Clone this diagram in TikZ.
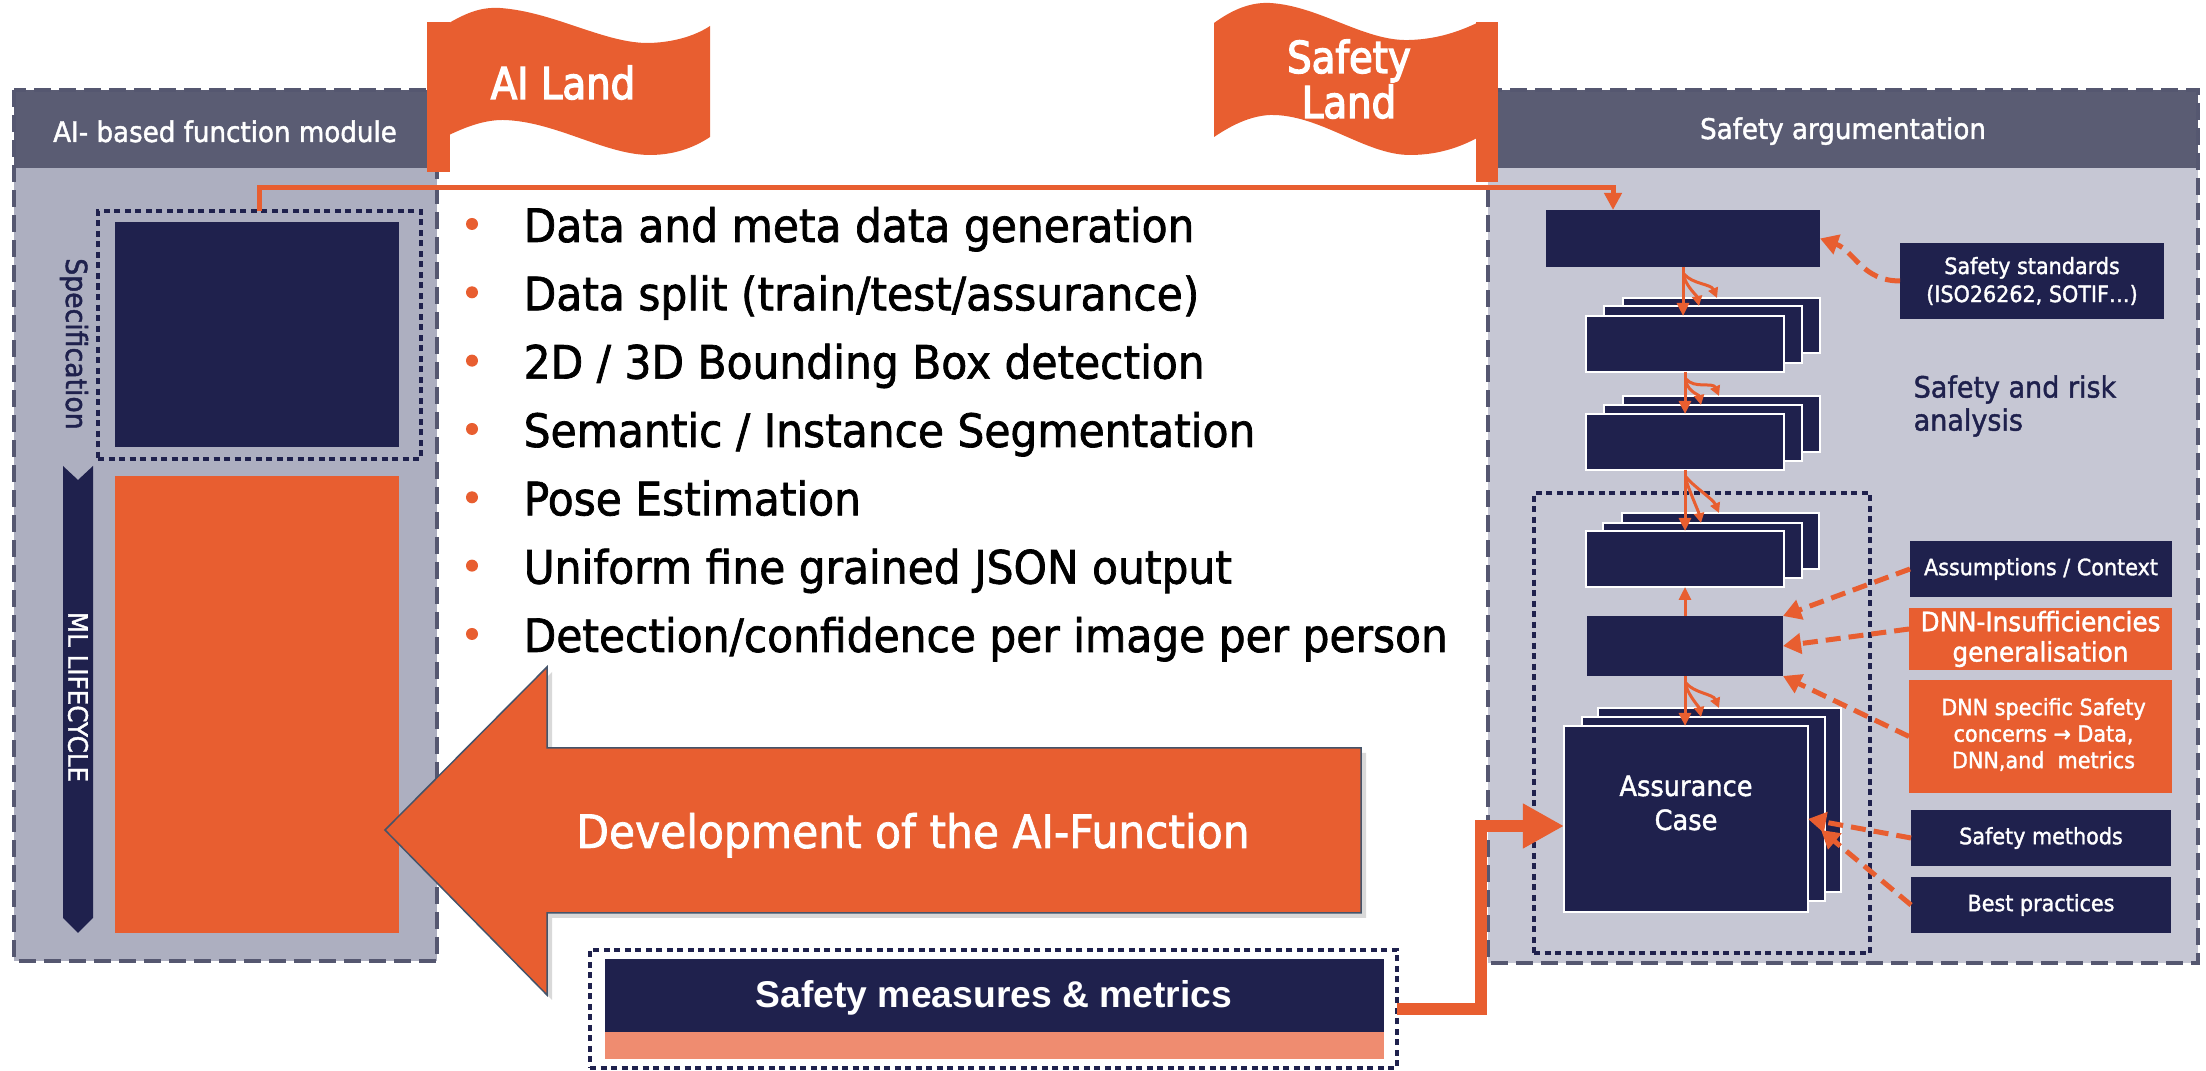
\documentclass[tikz,border=0pt]{standalone}
\usepackage{fontspec}
\setmainfont{DejaVu Sans}[FakeStretch=0.92,FakeBold=1.5]
\newfontfamily\flagf{DejaVu Sans}[FakeStretch=0.88,FakeBold=3]
\newfontfamily\arialf{Liberation Sans}
\usetikzlibrary{fit,calc,arrows.meta,shadows}
\definecolor{navy}{RGB}{31,33,77}
\definecolor{orng}{RGB}{232,94,48}
\definecolor{hdr}{RGB}{90,92,115}
\definecolor{lbody}{RGB}{173,175,192}
\definecolor{rbody}{RGB}{198,199,212}
\definecolor{bord}{RGB}{85,87,112}
\definecolor{salmon}{RGB}{239,140,112}
\definecolor{arrbord}{RGB}{68,84,106}
\newcommand\fpt[2]{\fontsize{#1}{#2}\selectfont}
\newcommand\forkto[4]{%
  \draw[stem] (#1.south) -- (#1.south |- #2.north);
  \path (#1.south) ++(1,7) coordinate (fkA) ++(0,3) coordinate (fkB);
  \path (#1.south) ++(34,0) coordinate (fkC) ++(-18,0) coordinate (fkD);
  \draw[branch] (fkA) .. controls +(8,10) and +(-6,-14) .. (fkC |- #4.north);
  \draw[branch] (fkB) .. controls +(3,10) and +(-2,-10) .. (fkD |- #3.north);
}
\begin{document}
\begin{tikzpicture}[x=0.01cm,y=-0.01cm,
  bx/.style={inner sep=0pt,outer sep=0pt},
  stackbox/.style={bx,fill=navy,draw=white,line width=0.025cm},
  dotbox/.style={bx,draw=navy,line width=0.045cm,dash pattern=on 0.06cm off 0.045cm},
  outerdash/.style={draw=bord,line width=0.04cm,dash pattern=on 0.17cm off 0.08cm},
  hdrtxt/.style={inner sep=0pt,text=white,font=\fpt{8.08pt}{9.7pt}},
  bul/.style={inner sep=0pt,anchor=base west,font=\fpt{13.1pt}{15pt}},
  flagtxt/.style={inner sep=0pt,anchor=base,text=white,font=\flagf\fpt{12.5pt}{14pt}},
  boxtxt/.style={inner sep=0pt,text=white,align=center,font=\fpt{6.4pt}{7.97pt}},
  conn/.style={draw=orng,line width=0.05cm,-{Triangle[length=0.17cm,width=0.17cm]}},
  stem/.style={draw=orng,line width=0.03cm,-{Triangle[length=0.13cm,width=0.12cm]}},
  branch/.style={draw=orng,line width=0.03cm,-{Triangle[length=0.1cm,width=0.1cm]}},
  dasharr/.style={draw=orng,line width=0.05cm,dash pattern=on 0.15cm off 0.08cm,-{Triangle[length=0.18cm,width=0.2cm]}},
  thickconn/.style={draw=orng,line width=0.12cm,-{Triangle[length=0.41cm,width=0.42cm]}}
]
\useasboundingbox (0,0) rectangle (2206,1071);

% ---------- left module ----------
\node[bx,fit={(14,90)(437,961)},fill=lbody] (lmod) {};
\node[bx,fit={(14,90)(437,168)},fill=hdr] (lhdr) {};
\draw[outerdash] (lmod.north west) rectangle (lmod.south east);
\node[hdrtxt,anchor=base] (lhdrt) at (225,142) {AI- based function module};
\node[bx,fit={(98,211)(421,459)},dotbox] (spec) {};
\node[bx,fit={(115,222)(399,447)},fill=navy] (specsq) {};
\node[inner sep=0pt,rotate=-90,text=navy,font=\fpt{8.25pt}{10pt}] (spect) at (74,344) {Specification};
\fill[navy] (63,466) -- (78,480) -- (93,466) -- (93,918) -- (78,933) -- (63,918) -- cycle;
\node[inner sep=0pt,rotate=-90,text=white,font=\fpt{7.6pt}{9pt}] (mlt) at (78,697) {ML LIFECYCLE};
\node[bx,fit={(115,476)(399,933)},fill=orng] (mlrect) {};

% ---------- right module ----------
\node[bx,fit={(1488,90)(2198,963)},fill=rbody] (rmod) {};
\node[bx,fit={(1488,90)(2198,168)},fill=hdr] (rhdr) {};
\draw[outerdash] (rmod.north west) rectangle (rmod.south east);
\node[hdrtxt,anchor=base] (rhdrt) at (1843,139) {Safety argumentation};

% ---------- flags ----------
\fill[orng] (427,22) rectangle (450,172);
\fill[orng] (449,23) .. controls (468,12) and (482,7) .. (500,8)
  .. controls (555,12) and (605,44) .. (650,43)
  .. controls (678,42) and (698,34) .. (710,26) -- (710,137)
  .. controls (698,145) and (678,155) .. (650,155)
  .. controls (605,155) and (555,121) .. (503,120)
  .. controls (485,120) and (468,126) .. (449,135) -- cycle;
\node[flagtxt] (ailand) at (563,99) {AI Land};
\fill[orng] (1476,22) rectangle (1498,182);
\fill[orng] (1214,23) .. controls (1232,10) and (1250,2) .. (1270,3)
  .. controls (1320,6) and (1365,42) .. (1410,40)
  .. controls (1440,39) and (1462,30) .. (1477,23) -- (1477,138)
  .. controls (1462,146) and (1440,155) .. (1410,155)
  .. controls (1365,155) and (1320,114) .. (1270,115)
  .. controls (1250,116) and (1232,125) .. (1214,137) -- cycle;
\node[flagtxt] (sland1) at (1349,73) {Safety};
\node[flagtxt] (sland2) at (1349,118) {Land};

% ---------- right inner boxes ----------
\node[bx,fit={(1534,493)(1870,953)},dotbox] (inner) {};
\node[bx,fit={(1546,210)(1820,267)},fill=navy] (topbox) {};
\node[stackbox,fit={(1623,298)(1820,353)}] (s1b) {};
\node[stackbox,fit={(1604,306)(1802,363)}] (s1m) {};
\node[stackbox,fit={(1586,316)(1784,372)}] (s1f) {};
\node[stackbox,fit={(1623,396)(1820,452)}] (s2b) {};
\node[stackbox,fit={(1604,405)(1802,461)}] (s2m) {};
\node[stackbox,fit={(1586,414)(1784,470)}] (s2f) {};
\node[stackbox,fit={(1622,513)(1819,569)}] (s3b) {};
\node[stackbox,fit={(1603,523)(1802,578)}] (s3m) {};
\node[stackbox,fit={(1586,531)(1784,587)}] (s3f) {};
\node[bx,fit={(1587,616)(1783,676)},fill=navy] (mid) {};
\node[stackbox,fit={(1598,708)(1841,892)}] (acb) {};
\node[stackbox,fit={(1582,717)(1825,901)}] (acm) {};
\node[stackbox,fit={(1564,726)(1808,912)}] (acf) {};
\node[text=white,align=center,inner sep=0pt,font=\fpt{7.94pt}{9.67pt}] (act) at (1686,803) {Assurance\\Case};

\node[bx,fit={(1900,243)(2164,319)},fill=navy] (std) {};
\node[boxtxt] (stdt) at (std.center) {Safety standards\\(ISO26262, SOTIF…)};
\node[text=navy,align=left,anchor=west,inner sep=0pt,font=\fpt{8.34pt}{9.39pt}] (risk) at (1913,406) {Safety and risk\\analysis};
\node[bx,fit={(1910,541)(2172,597)},fill=navy] (asm) {};
\node[boxtxt] (asmt) at (asm.center) {Assumptions / Context};
\node[bx,fit={(1909,608)(2172,670)},fill=orng] (dnn1) {};
\node[boxtxt,font=\fpt{7.63pt}{8.6pt}] (dnn1t) at (dnn1.center) {DNN-Insufficiencies\\generalisation};
\node[bx,fit={(1909,680)(2172,793)},fill=orng] (dnn2) {};
\node[boxtxt,font=\fpt{6.4pt}{7.54pt}] (dnn2t) at ($(dnn2.center)+(3,-2)$) {DNN specific Safety\\concerns → Data,\\DNN,and\ \ metrics};
\node[bx,fit={(1911,810)(2171,866)},fill=navy] (smeth) {};
\node[boxtxt] (smetht) at (smeth.center) {Safety methods};
\node[bx,fit={(1911,877)(2171,933)},fill=navy] (bestp) {};
\node[boxtxt] (bestpt) at (bestp.center) {Best practices};

% forks and arrows
\forkto{topbox}{s1f}{s1m}{s1b}
\forkto{s1f}{s2f}{s2m}{s2b}
\forkto{s2f}{s3f}{s3m}{s3b}
\forkto{mid}{acf}{acm}{acb}
\draw[stem] (mid.north) -- (mid.north |- s3f.south);

\draw[dasharr] (std.west) .. controls +(-38,0) and +(34,12) .. (topbox.east);
\draw[dasharr] (asm.west) -- (mid.north east);
\draw[dasharr] ($(dnn1.west)+(0,-10)$) -- (mid.east);
\draw[dasharr] (dnn2.west) -- (mid.south east);
\draw[dasharr] (smeth.west) -- (acf.east);
\draw[dasharr] (bestp.west) -- ($(acm.east)+(-4,21)$);

% ---------- top connector ----------
\draw[conn] (spec.north) -- ++(0,-23) -| ($(topbox.north west)+(67,0)$);

% ---------- bullets ----------
\foreach \t [count=\i from 0] in {Data and meta data generation,Data split (train/test/assurance),2D / 3D Bounding Box detection,Semantic / Instance Segmentation,Pose Estimation,Uniform fine grained JSON output,Detection/confidence per image per person}{
  \pgfmathsetmacro\yy{242+68.33*\i}
  \fill[orng] (472,\yy-18) circle[radius=0.06cm];
  \node[bul] (bul\i) at (523,\yy) {\t};
}

% ---------- big arrow ----------
\draw[fill=orng,draw=arrbord,line width=0.015cm,
  drop shadow={shadow xshift=0.05cm,shadow yshift=-0.05cm,opacity=0.3}]
  (385,830) -- (547,667) -- (547,748) -- (1361,748) -- (1361,913) -- (547,913) -- (547,995) -- cycle;
\node[inner sep=0pt,anchor=base,text=white,font=\fpt{13.1pt}{15pt}] (devt) at (913,848) {Development of the AI-Function};

% ---------- bottom box ----------
\node[bx,fit={(590,950)(1397,1068)},dotbox] (smmbox) {};
\node[bx,fit={(605,959)(1384,1032)},fill=navy] (smm) {};
\node[bx,fit={(605,1032)(1384,1059)},fill=salmon] (smmbar) {};
\node[inner sep=0pt,anchor=base,text=white,font=\arialf\bfseries\fpt{10.6pt}{12pt}] (smmt) at (994,1008) {Safety measures \& metrics};
\draw[thickconn] (smmbox.east) -- ++(84,0) |- ($(acf.west)+(0,7)$);
\end{tikzpicture}
\end{document}
